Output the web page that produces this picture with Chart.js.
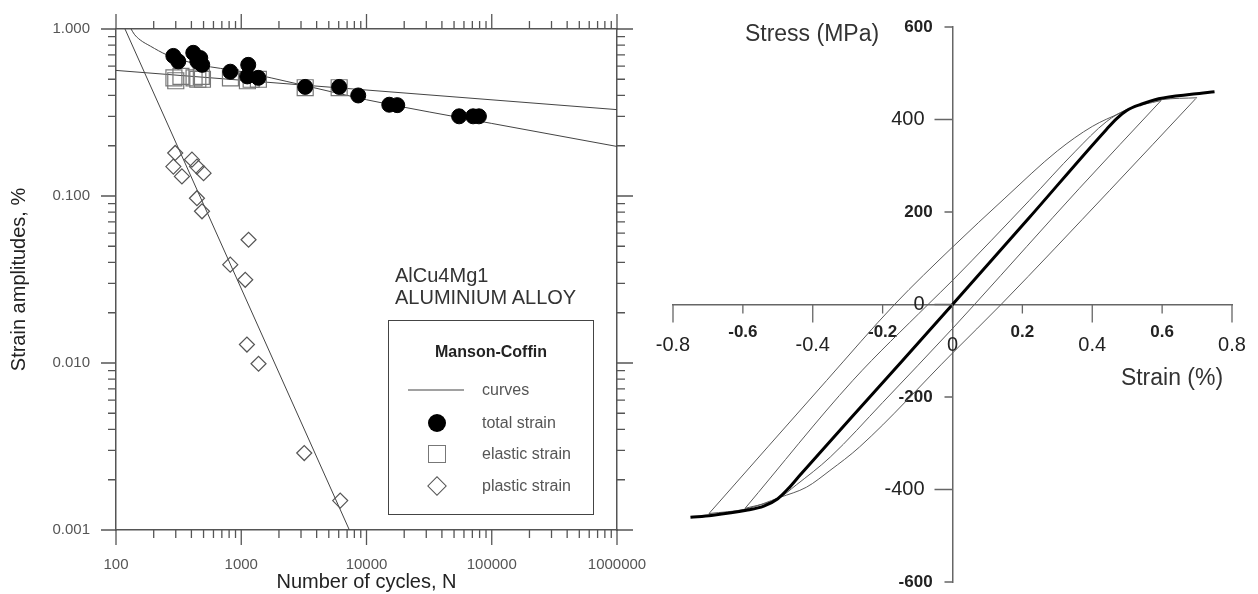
<!DOCTYPE html>
<html lang="en">
<head>
    <meta charset="UTF-8">
    <title>AlCu4Mg1 - Manson-Coffin and hysteresis loops</title>
    <script src="https://cdn.jsdelivr.net/npm/chart.js"></script>
    <style>
        body { margin: 0; background: #fff; font-family: "Liberation Sans", Arial, sans-serif; }
        #page { position: relative; width: 1258px; height: 594px; overflow: hidden; }
        canvas { position: absolute; top: 0; }
        #fatigueChart { left: 0; }
        #loopChart { left: 640px; }
        .txt { position: absolute; white-space: nowrap; pointer-events: none; }
        .center { transform: translate(-50%, -50%); line-height: 1; }
        #alloy { left: 395px; top: 264px; font-size: 20px; line-height: 22px; color: #333; }
        #legend { position: absolute; left: 388px; top: 320px; width: 206px; height: 195px;
                  box-sizing: border-box; border: 1.5px solid #444; background: #fff; }
        #legend .title { left: 102px; top: 31px; font-size: 16px; font-weight: bold; color: #222; }
        #legend .label { left: 93px; font-size: 16px; color: #555; transform: translateY(-50%); line-height: 1; }
        .sym { position: absolute; box-sizing: border-box; transform: translate(-50%, -50%); }
        .sym.line { width: 56px; height: 0; border-top: 1px solid #444; transform: translateY(-50%); }
        .sym.dot { width: 18px; height: 18px; border-radius: 50%; background: #000; }
        .sym.box { width: 18px; height: 18px; border: 1.5px solid #777; }
        .sym.dia { width: 14px; height: 14px; border: 1.3px solid #555; transform: translate(-50%, -50%) rotate(45deg); }
        #stressTitle { left: 812px; top: 33px; font-size: 23px; color: #333; }
        #strainTitle { left: 1172px; top: 377px; font-size: 23px; color: #333; }
    </style>
</head>
<body>
<div id="page">
    <canvas id="fatigueChart" width="660" height="594"></canvas>
    <canvas id="loopChart" width="618" height="594"></canvas>

    <div id="alloy" class="txt">AlCu4Mg1<br>ALUMINIUM ALLOY</div>
    <div id="legend">
        <div class="txt center title">Manson-Coffin</div>
        <div class="sym line" style="left:19px; top:69px"></div>
        <div class="txt label" style="top:69px">curves</div>
        <div class="sym dot" style="left:48px; top:102px"></div>
        <div class="txt label" style="top:102px">total strain</div>
        <div class="sym box" style="left:48px; top:133px"></div>
        <div class="txt label" style="top:133px">elastic strain</div>
        <div class="sym dia" style="left:48px; top:165px"></div>
        <div class="txt label" style="top:165px">plastic strain</div>
    </div>
    <div id="stressTitle" class="txt center">Stress (MPa)</div>
    <div id="strainTitle" class="txt center">Strain (%)</div>
</div>

<script>
    // ---------- left chart: Manson-Coffin (log-log) ----------
    const cycleDecades = [100, 1000, 10000, 100000, 1000000];
    const cycleTickLabels = ['100', '1000', '10000', '100000', '1000000'];
    const ampDecades = [0.001, 0.01, 0.1, 1];
    const ampTickLabels = ['0.001', '0.010', '0.100', '1.000'];

    // total strain (filled circles)
    const totalN      = [287, 314, 414, 471, 488, 446, 817, 1137, 1117, 1368, 3240, 6050, 8590, 15200, 17600, 54900, 71000, 79000];
    const totalStrain = [0.69, 0.64, 0.72, 0.67, 0.61, 0.64, 0.555, 0.61, 0.52, 0.51, 0.45, 0.45, 0.40, 0.352, 0.35, 0.30, 0.30, 0.30];

    // elastic strain (open squares)
    const elasticN      = [290, 300, 330, 420, 450, 480, 490, 820, 1120, 1200, 1370, 3240, 6050];
    const elasticStrain = [0.51, 0.49, 0.52, 0.51, 0.50, 0.52, 0.50, 0.51, 0.49, 0.50, 0.50, 0.445, 0.445];

    // plastic strain (open diamonds)
    const plasticN      = [297, 287, 336, 404, 443, 500, 443, 486, 1144, 817, 1076, 1110, 1374, 3184, 6166];
    const plasticStrain = [0.181, 0.150, 0.131, 0.165, 0.150, 0.137, 0.097, 0.081, 0.0547, 0.0388, 0.0315, 0.0129, 0.0099, 0.00289, 0.00150];

    // fitted curves
    const totalCurveN      = [132, 140, 156, 188, 255, 470, 1000, 3000, 10000, 100000, 1000000];
    const totalCurveStrain = [1.0, 0.93, 0.86, 0.79, 0.70, 0.61, 0.556, 0.464, 0.377, 0.272, 0.198];
    const elasticLineN      = [100, 1000000];
    const elasticLineStrain = [0.565, 0.329];
    const plasticLineN      = [118, 7300];
    const plasticLineStrain = [1.0, 0.001];

    // ---------- right chart: stress-strain loops ----------
    const strainMajor = [-0.8, -0.4, 0, 0.4, 0.8];
    const strainMajorLabels = ['-0.8', '-0.4', '0', '0.4', '0.8'];
    const strainMinor = [-0.6, -0.2, 0.2, 0.6];
    const strainMinorLabels = ['-0.6', '-0.2', '0.2', '0.6'];
    const stressMajor = [-400, 0, 400];
    const stressMajorLabels = ['-400', '0', '400'];
    const stressMinor = [-600, -200, 200, 600];
    const stressMinorLabels = ['-600', '-200', '200', '600'];

    // cyclic curve (thick)
    const cyclicStrain = [-0.75, -0.69, -0.59, -0.54, -0.50, -0.47, -0.44, -0.22, 0, 0.22, 0.44, 0.47, 0.50, 0.54, 0.59, 0.69, 0.75];
    const cyclicStress = [-460, -456, -445, -436, -420, -398, -372, -186, 0, 188, 378, 402, 420, 433, 445, 455, 460];

    // loop of 0.7 % amplitude
    const loopA_upStrain = [-0.697, -0.36, -0.166, 0, 0.15, 0.30, 0.40, 0.48, 0.53, 0.60, 0.70];
    const loopA_upStress = [-452, -164, 0, 124, 230, 332, 385, 414, 431, 443, 447];
    const loopA_downStrain = [-0.697, -0.59, -0.494, -0.418, -0.351, -0.266, 0, 0.139, 0.449, 0.696];
    const loopA_downStress = [-452, -442, -417, -395, -359, -308, -105, 0, 246, 445];

    // loop of 0.6 % amplitude
    const loopB_upStrain = [-0.594, -0.285, -0.07, 0, 0.22, 0.35, 0.44, 0.50, 0.597];
    const loopB_upStress = [-441, -164, 0, 52, 225, 330, 395, 422, 441];
    const loopB_downStrain = [-0.594, -0.50, -0.447, -0.35, -0.20, 0, 0.063, 0.363, 0.597];
    const loopB_downStress = [-441, -420, -390, -330, -212, -52, 0, 251, 441];

    const pts = (xs, ys) => xs.map((x, i) => ({ x: x, y: ys[i] }));

    // draws outward tick marks of two lengths along chosen axes
    const tickMarks = {
        id: 'tickMarks',
        afterDraw(chart, args, opts) {
            const ctx = chart.ctx;
            ctx.save();
            ctx.strokeStyle = opts.color;
            ctx.lineWidth = opts.width;
            ctx.beginPath();
            for (const m of opts.marks) {
                const s = chart.scales[m.scale];
                const at = chart.scales[m.base].getPixelForValue(m.at);
                for (const v of m.values) {
                    const p = s.getPixelForValue(v);
                    if (s.isHorizontal()) {
                        ctx.moveTo(p, at);
                        ctx.lineTo(p, at + m.dir * m.len);
                    } else {
                        ctx.moveTo(at, p);
                        ctx.lineTo(at + m.dir * m.len, p);
                    }
                }
            }
            ctx.stroke();
            ctx.restore();
        }
    };

    const fixedTicks = values => scale => { scale.ticks = values.map(v => ({ value: v })); };
    // fix the box size of a scale and drop the label overhang padding
    const fitTo = (prop, size) => s => {
        s[prop] = size;
        s.paddingTop = s.paddingBottom = s.paddingLeft = s.paddingRight = 0;
    };

    const cycleMinor = cycleDecades.slice(0, -1).flatMap(d => [2, 3, 4, 5, 6, 7, 8, 9].map(k => d * k));
    const ampMinor = ampDecades.slice(0, -1).flatMap(d => [2, 3, 4, 5, 6, 7, 8, 9].map(k => d * k));

    const frameColor = '#555';
    const labelFont = { family: 'Liberation Sans, Arial, sans-serif', size: 15 };
    const titleFont = { family: 'Liberation Sans, Arial, sans-serif', size: 20 };

    new Chart(document.getElementById('fatigueChart'), {
        type: 'scatter',
        data: {
            datasets: [
                { label: 'total strain', data: pts(totalN, totalStrain), pointStyle: 'circle', pointRadius: 7.5,
                  backgroundColor: '#000', borderColor: '#000', borderWidth: 1 },
                { label: 'elastic strain', data: pts(elasticN, elasticStrain), pointStyle: 'rect', pointRadius: 11.3,
                  backgroundColor: 'rgba(0,0,0,0)', borderColor: '#777', borderWidth: 1.2 },
                { label: 'plastic strain', data: pts(plasticN, plasticStrain), pointStyle: 'rectRot', pointRadius: 7.5,
                  backgroundColor: 'rgba(0,0,0,0)', borderColor: '#555', borderWidth: 1.2 },
                { label: 'total curve', data: pts(totalCurveN, totalCurveStrain), showLine: true, pointRadius: 0,
                  borderColor: '#444', borderWidth: 1, cubicInterpolationMode: 'monotone' },
                { label: 'elastic curve', data: pts(elasticLineN, elasticLineStrain), showLine: true, pointRadius: 0,
                  borderColor: '#444', borderWidth: 1 },
                { label: 'plastic curve', data: pts(plasticLineN, plasticLineStrain), showLine: true, pointRadius: 0,
                  borderColor: '#444', borderWidth: 1 }
            ]
        },
        options: {
            responsive: false,
            animation: false,
            events: [],
            layout: { padding: 0 },
            plugins: {
                legend: { display: false },
                tooltip: { enabled: false },
                tickMarks: {
                    color: frameColor, width: 1.3,
                    marks: [
                        { scale: 'x', base: 'y', at: 0.001, dir: 1, len: 15, values: cycleDecades },
                        { scale: 'x', base: 'y', at: 0.001, dir: 1, len: 8, values: cycleMinor },
                        { scale: 'x', base: 'y', at: 1, dir: -1, len: 15, values: cycleDecades },
                        { scale: 'x', base: 'y', at: 1, dir: -1, len: 8, values: cycleMinor },
                        { scale: 'y', base: 'x', at: 100, dir: -1, len: 15, values: ampDecades },
                        { scale: 'y', base: 'x', at: 100, dir: -1, len: 8, values: ampMinor },
                        { scale: 'y', base: 'x', at: 1000000, dir: 1, len: 16, values: ampDecades },
                        { scale: 'y', base: 'x', at: 1000000, dir: 1, len: 8, values: ampMinor }
                    ]
                }
            },
            scales: {
                x: {
                    type: 'logarithmic', position: 'bottom', min: 100, max: 1000000,
                    grid: { display: false, drawTicks: false },
                    border: { color: frameColor, width: 1.5 },
                    ticks: { padding: 26, color: '#555', font: labelFont, maxRotation: 0, autoSkip: false,
                             callback: (v, i) => cycleTickLabels[i] },
                    afterBuildTicks: fixedTicks(cycleDecades),
                    title: { display: true, text: 'Number of cycles, N', color: '#222', font: titleFont,
                             padding: { top: 0, bottom: 0 } },
                    afterFit: fitTo('height', 64)
                },
                xTop: {
                    type: 'logarithmic', position: 'top', min: 100, max: 1000000,
                    grid: { display: false, drawTicks: false },
                    border: { color: frameColor, width: 1.5 },
                    ticks: { display: false },
                    afterFit: fitTo('height', 29)
                },
                y: {
                    type: 'logarithmic', position: 'left', min: 0.001, max: 1,
                    grid: { display: false, drawTicks: false },
                    border: { color: frameColor, width: 1.5 },
                    ticks: { padding: 26, color: '#555', font: labelFont, autoSkip: false,
                             callback: (v, i) => ampTickLabels[i] },
                    afterBuildTicks: fixedTicks(ampDecades),
                    title: { display: true, text: 'Strain amplitudes, %', color: '#222', font: titleFont,
                             padding: { top: 7, bottom: 0 } },
                    afterFit: fitTo('width', 116)
                },
                yRight: {
                    type: 'logarithmic', position: 'right', min: 0.001, max: 1,
                    grid: { display: false, drawTicks: false },
                    border: { color: frameColor, width: 1.5 },
                    ticks: { display: false },
                    afterFit: fitTo('width', 43)
                }
            }
        },
        plugins: [tickMarks]
    });

    // ---------- right chart ----------
    const axisColor = '#666';
    const thin = { showLine: true, pointRadius: 0, borderColor: '#5a5a5a', borderWidth: 1, cubicInterpolationMode: 'monotone' };
    const labelScale = (axis, values, labels, extra) => Object.assign({
        type: 'linear',
        min: axis === 'x' ? -0.8 : -600,
        max: axis === 'x' ? 0.8 : 600,
        grid: { display: false, drawTicks: false },
        border: { display: false },
        afterBuildTicks: fixedTicks(values),
        afterFit: axis === 'x' ? fitTo('height', 0) : fitTo('width', 0)
    }, extra, {
        ticks: Object.assign({ color: '#222', autoSkip: false, maxRotation: 0,
                               callback: (v, i) => labels[i] }, extra.ticks)
    });

    new Chart(document.getElementById('loopChart'), {
        type: 'scatter',
        data: {
            datasets: [
                { label: 'cyclic curve', data: pts(cyclicStrain, cyclicStress), showLine: true, pointRadius: 0,
                  borderColor: '#000', borderWidth: 3, cubicInterpolationMode: 'monotone' },
                Object.assign({ label: 'loop 0.7 up', data: pts(loopA_upStrain, loopA_upStress) }, thin),
                Object.assign({ label: 'loop 0.7 down', data: pts(loopA_downStrain, loopA_downStress) }, thin),
                Object.assign({ label: 'loop 0.6 up', data: pts(loopB_upStrain, loopB_upStress) }, thin),
                Object.assign({ label: 'loop 0.6 down', data: pts(loopB_downStrain, loopB_downStress) }, thin)
            ]
        },
        options: {
            responsive: false,
            animation: false,
            events: [],
            layout: { padding: { left: 33, right: 26, top: 27, bottom: 12 } },
            plugins: {
                legend: { display: false },
                tooltip: { enabled: false },
                tickMarks: {
                    color: axisColor, width: 1.3,
                    marks: [
                        { scale: 'x', base: 'y', at: 0, dir: 1, len: 18, values: strainMajor },
                        { scale: 'x', base: 'y', at: 0, dir: 1, len: 9, values: strainMinor },
                        { scale: 'y', base: 'x', at: 0, dir: -1, len: 18, values: stressMajor },
                        { scale: 'y', base: 'x', at: 0, dir: -1, len: 8, values: stressMinor }
                    ]
                }
            },
            scales: {
                x: {
                    type: 'linear', min: -0.8, max: 0.8, position: { y: 0 },
                    grid: { display: false, drawTicks: false },
                    border: { color: axisColor, width: 1.5 },
                    ticks: { display: false },
                    afterFit: fitTo('height', 0)
                },
                y: {
                    type: 'linear', min: -600, max: 600, position: { x: 0 },
                    grid: { display: false, drawTicks: false },
                    border: { color: axisColor, width: 1.5 },
                    ticks: { display: false },
                    afterFit: fitTo('width', 0)
                },
                xMajor: labelScale('x', strainMajor, strainMajorLabels,
                    { position: { y: 0 }, ticks: { padding: 29, font: { size: 20 } } }),
                xMinor: labelScale('x', strainMinor, strainMinorLabels,
                    { position: { y: 0 }, ticks: { padding: 18, font: { size: 17, weight: 'bold' } } }),
                yMajor: labelScale('y', stressMajor, stressMajorLabels,
                    { position: { x: -0.08 }, ticks: { font: { size: 20 } } }),
                yMinor: labelScale('y', stressMinor, stressMinorLabels,
                    { position: { x: -0.057 }, ticks: { font: { size: 17, weight: 'bold' } } })
            }
        },
        plugins: [tickMarks]
    });
</script>
</body>
</html>
